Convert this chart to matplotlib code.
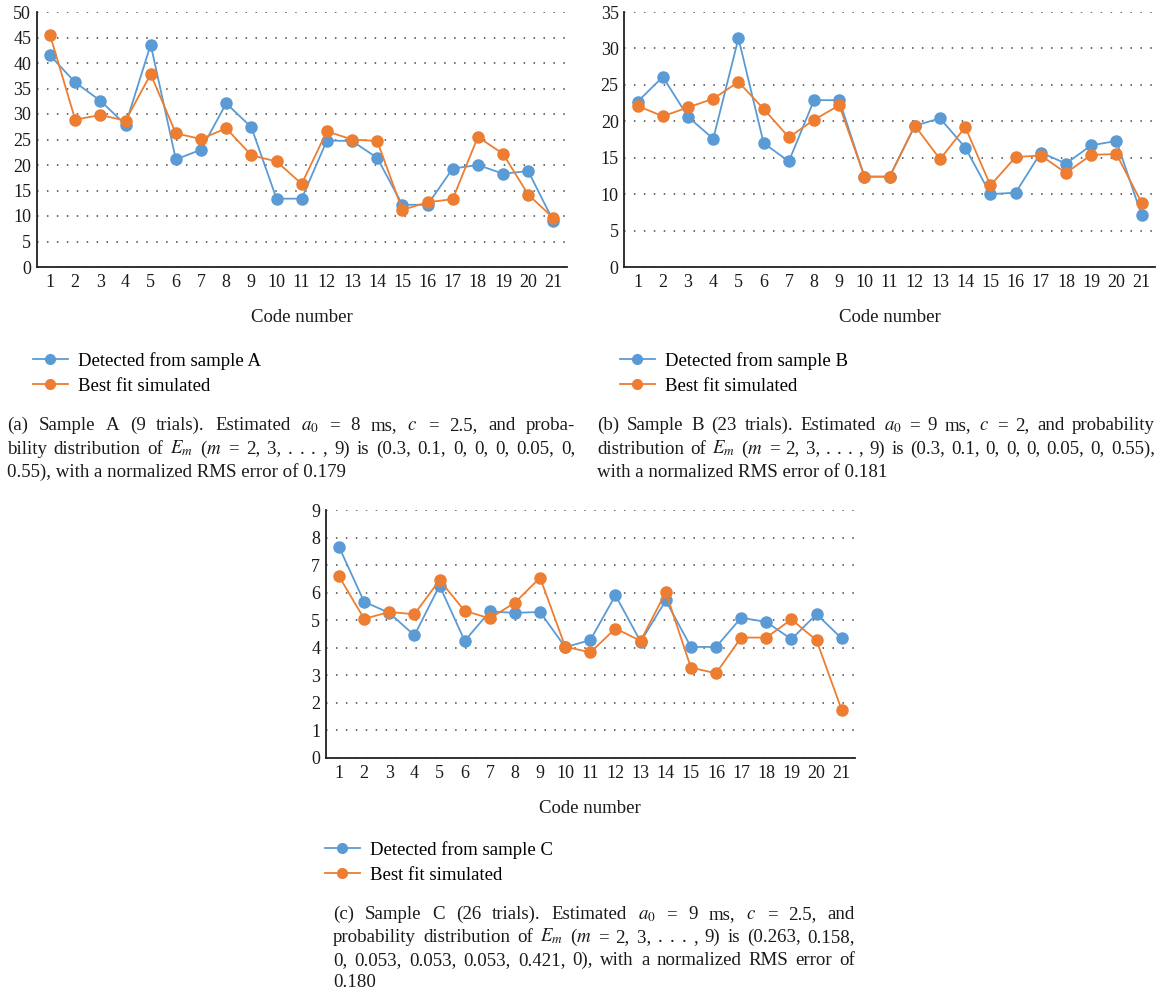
import matplotlib
matplotlib.use("Agg")
import matplotlib.pyplot as plt
from matplotlib.lines import Line2D

# ---------------- data ----------------
codes = list(range(1, 22))

detected_A = [41.5, 36.2, 32.6, 27.9, 43.6, 21.1, 23.0, 32.1, 27.4, 13.4, 13.4,
              24.8, 24.7, 21.4, 12.2, 12.2, 19.3, 20.0, 18.3, 18.8, 9.0]
simulated_A = [45.5, 28.9, 29.8, 28.7, 37.8, 26.2, 25.1, 27.2, 21.9, 20.7, 16.3,
               26.6, 25.0, 24.7, 11.2, 12.7, 13.3, 25.5, 22.2, 14.2, 9.6]

detected_B = [22.7, 26.1, 20.6, 17.6, 31.4, 17.0, 14.5, 22.9, 22.9, 12.4, 12.4,
              19.4, 20.4, 16.4, 10.0, 10.2, 15.7, 14.2, 16.7, 17.3, 7.1]
simulated_B = [22.1, 20.7, 21.9, 23.1, 25.4, 21.7, 17.8, 20.2, 22.2, 12.4, 12.4,
               19.4, 14.8, 19.2, 11.2, 15.1, 15.3, 12.9, 15.4, 15.5, 8.8]

detected_C = [7.67, 5.67, 5.27, 4.45, 6.26, 4.25, 5.32, 5.27, 5.30, 4.02, 4.28,
              5.91, 4.22, 5.72, 4.03, 4.03, 5.09, 4.94, 4.31, 5.22, 4.34]
simulated_C = [6.60, 5.05, 5.30, 5.22, 6.46, 5.34, 5.07, 5.64, 6.55, 4.04, 3.83,
               4.70, 4.25, 6.02, 3.28, 3.07, 4.37, 4.37, 5.03, 4.27, 1.74]

yticks_A = list(range(0, 51, 5))
yticks_B = list(range(0, 36, 5))
yticks_C = list(range(0, 10, 1))

legend_A = ["Detected from sample A", "Best fit simulated"]
legend_B = ["Detected from sample B", "Best fit simulated"]
legend_C = ["Detected from sample C", "Best fit simulated"]

caption_A = ["(a)  Sample A (9 trials). Estimated $a_0$ = 8 ms, $c$ = 2.5, and proba-",
             "bility distribution of $E_m$ ($m$ = 2, 3, . . . , 9) is (0.3, 0.1, 0, 0, 0, 0.05, 0,",
             "0.55), with a normalized RMS error of 0.179"]
caption_B = ["(b)  Sample B (23 trials). Estimated $a_0$ = 9 ms, $c$ = 2, and probability",
             "distribution of $E_m$ ($m$ = 2, 3, . . . , 9) is (0.3, 0.1, 0, 0, 0, 0.05, 0, 0.55),",
             "with a normalized RMS error of 0.181"]
caption_C = ["(c)  Sample C (26 trials). Estimated $a_0$ = 9 ms, $c$ = 2.5, and",
             "probability distribution of $E_m$ ($m$ = 2, 3, . . . , 9) is (0.263, 0.158,",
             "0, 0.053, 0.053, 0.053, 0.421, 0), with a normalized RMS error of",
             "0.180"]

BLUE = "#5B9BD5"
ORANGE = "#ED7D31"

plt.rcParams['font.family'] = ['Liberation Serif', 'DejaVu Serif']
plt.rcParams['mathtext.fontset'] = 'stix'

W, H = 1159, 1002
fig = plt.figure(figsize=(W / 100, H / 100), dpi=100)


def px_axes(l, t, r, b):
    return fig.add_axes([l / W, 1 - b / H, (r - l) / W, (b - t) / H])


def draw_panel(ax, det, sim, yticks):
    ax.plot(codes, det, color=BLUE, lw=1.3, marker='o', ms=8,
            markeredgecolor=BLUE, clip_on=False, zorder=3)
    ax.plot(codes, sim, color=ORANGE, lw=1.3, marker='o', ms=8,
            markeredgecolor=ORANGE, clip_on=False, zorder=4)
    ax.set_xlim(0.47, 21.53)
    ax.set_ylim(yticks[0], yticks[-1])
    ax.set_yticks(yticks)
    ax.set_xticks(codes)
    ax.tick_params(axis='both', length=0, labelsize=13, colors='#1a1a1a')
    ax.tick_params(axis='x', pad=5)
    ax.tick_params(axis='y', pad=4)
    for s in ['top', 'right']:
        ax.spines[s].set_visible(False)
    for s in ['left', 'bottom']:
        ax.spines[s].set_linewidth(1.3)
        ax.spines[s].set_color('#222222')
    ax.yaxis.grid(True, linestyle=(0, (1, 5.5)), color='#444444', lw=1.1)
    ax.set_axisbelow(True)
    ax.set_xlabel("Code number", fontsize=13.5, labelpad=13, color='#1a1a1a')


axA = px_axes(36.7, 12, 566.7, 267)
axB = px_axes(624.3, 12, 1155, 267)
axC = px_axes(325.7, 510.3, 855, 757.7)
draw_panel(axA, detected_A, simulated_A, yticks_A)
draw_panel(axB, detected_B, simulated_B, yticks_B)
draw_panel(axC, detected_C, simulated_C, yticks_C)


def add_legend(labels, x, y_top):
    handles = [Line2D([], [], color=BLUE, lw=1.3, marker='o', ms=7),
               Line2D([], [], color=ORANGE, lw=1.3, marker='o', ms=7)]
    fig.legend(handles, labels, loc='upper left',
               bbox_to_anchor=(x / W, 1 - y_top / H), frameon=False,
               fontsize=13.5, handlelength=1.85, handletextpad=0.55,
               labelspacing=0.42, borderpad=0, borderaxespad=0)


add_legend(legend_A, 33, 352)
add_legend(legend_B, 620, 352)
add_legend(legend_C, 325, 841)

renderer = fig.canvas.get_renderer()
CAP_FS = 13.6


def justified(lines, x0, x1, y0, dy):
    for i, line in enumerate(lines):
        y = 1 - (y0 + i * dy) / H
        if i == len(lines) - 1:
            fig.text(x0 / W, y, line, fontsize=CAP_FS, va='baseline',
                     ha='left', color='#1a1a1a')
            continue
        words = line.split(' ')
        words = [w for w in words if w != '']
        texts = []
        widths = []
        for w in words:
            t = fig.text(0, y, w, fontsize=CAP_FS, va='baseline', ha='left',
                         color='#1a1a1a')
            bb = t.get_window_extent(renderer=renderer)
            texts.append(t)
            widths.append(bb.width)
        gap = (x1 - x0 - sum(widths)) / (len(words) - 1)
        xp = x0
        for t, wd in zip(texts, widths):
            t.set_x(xp / W)
            xp += wd + gap


justified(caption_A, 7, 575, 430, 23.5)
justified(caption_B, 597, 1155, 430, 23.5)
justified(caption_C, 333, 855, 919, 22.8)

fig.savefig("out.png", dpi=100)
